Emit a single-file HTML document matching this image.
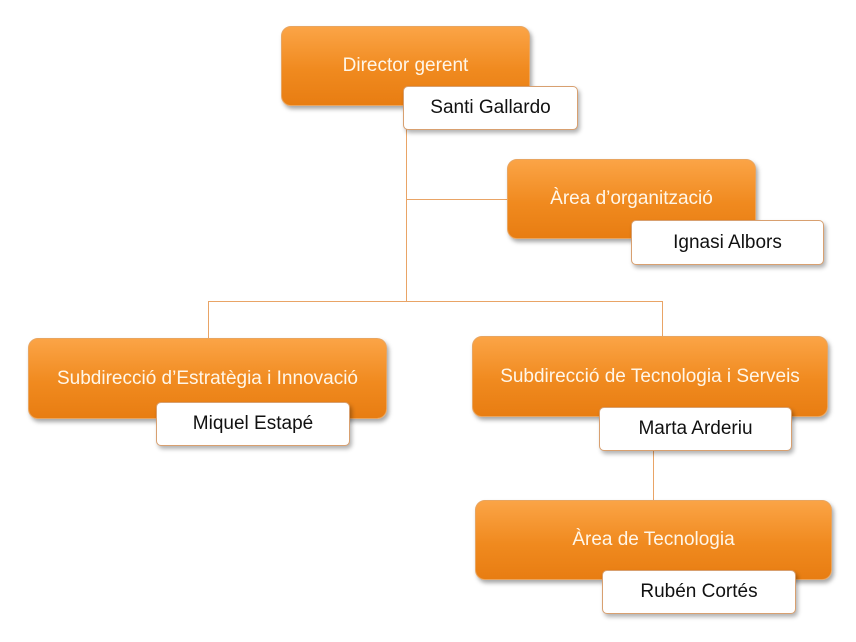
<!DOCTYPE html>
<html><head><meta charset="utf-8"><style>
html,body{margin:0;padding:0;background:#fff;width:856px;height:642px;overflow:hidden;position:relative;font-family:"Liberation Sans",sans-serif}
.o{position:absolute;border-radius:10px;background:linear-gradient(#fba446,#f08a1f 55%,#e87d12);border:1px solid #e8a560;box-shadow:2px 3px 4px rgba(0,0,0,.35);color:#fff6e8;font-size:19px;display:flex;align-items:center;justify-content:center;box-sizing:border-box}
.w{position:absolute;border-radius:5px;background:#fff;border:1px solid #d8a070;box-shadow:2px 3px 4px rgba(0,0,0,.3);color:#111;font-size:19px;display:flex;align-items:center;justify-content:center;box-sizing:border-box}
.l{position:absolute;background:#e9a466}
</style></head><body>
<div class="l" style="left:406px;top:128px;width:1px;height:174px"></div>
<div class="l" style="left:406px;top:199px;width:102px;height:1px"></div>
<div class="l" style="left:208px;top:301px;width:455px;height:1px"></div>
<div class="l" style="left:208px;top:301px;width:1px;height:38px"></div>
<div class="l" style="left:662px;top:301px;width:1px;height:36px"></div>
<div class="l" style="left:653px;top:450px;width:1px;height:51px"></div>

<div class="o" style="left:281px;top:26px;width:249px;height:80px">Director gerent</div>
<div class="w" style="left:403px;top:86px;width:175px;height:44px">Santi Gallardo</div>

<div class="o" style="left:507px;top:159px;width:249px;height:80px">Àrea d’organització</div>
<div class="w" style="left:631px;top:220px;width:193px;height:45px">Ignasi Albors</div>

<div class="o" style="left:28px;top:338px;width:359px;height:81px">Subdirecció d’Estratègia i Innovació</div>
<div class="w" style="left:156px;top:402px;width:194px;height:44px">Miquel Estapé</div>

<div class="o" style="left:472px;top:336px;width:356px;height:81px">Subdirecció de Tecnologia i Serveis</div>
<div class="w" style="left:599px;top:407px;width:193px;height:44px">Marta Arderiu</div>

<div class="o" style="left:475px;top:500px;width:357px;height:80px">Àrea de Tecnologia</div>
<div class="w" style="left:602px;top:570px;width:194px;height:44px">Rubén Cortés</div>
</body></html>
